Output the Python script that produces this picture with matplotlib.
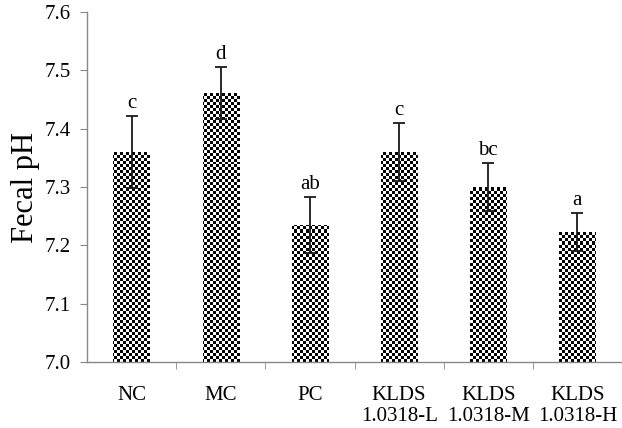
import numpy as np
import matplotlib
matplotlib.use("Agg")
import matplotlib.pyplot as plt

groups = ["NC", "MC", "PC", "KLDS\n1.0318-L", "KLDS\n1.0318-M", "KLDS\n1.0318-H"]
ph_mean = [7.360, 7.461, 7.235, 7.360, 7.300, 7.223]
ph_err = [0.062, 0.044, 0.048, 0.050, 0.041, 0.033]
letters = ["c", "d", "ab", "c", "bc", "a"]

plt.rcParams['font.family'] = ['Liberation Serif', 'DejaVu Serif']

fig = plt.figure(figsize=(6.22, 4.28), dpi=100)
ax = fig.add_axes([0.140, 0.154, 0.860, 0.818])

x = np.arange(len(groups))
ax.set_xlim(-0.5, len(groups) - 0.5)
ax.set_ylim(7.0, 7.6)

bars = ax.bar(x, [m - 7.0 for m in ph_mean], bottom=7.0, width=0.41,
              color="none", edgecolor="none")

# checkerboard fill, ~3 px squares, clipped to each bar
ny, nx = 117, 179
checker = (np.indices((ny, nx)).sum(axis=0) % 2).astype(float)
for b in bars:
    im = ax.imshow(checker, cmap="gray", vmin=0, vmax=1, aspect="auto",
                   interpolation="nearest", extent=(-0.5, len(groups) - 0.5, 7.0, 7.6),
                   zorder=1)
    im.set_clip_path(b)

ax.errorbar(x, ph_mean, yerr=ph_err, fmt="none", ecolor="#1a1a1a",
            elinewidth=1.3, capsize=4, capthick=1.3, zorder=3)

for xi, m, e, t in zip(x, ph_mean, ph_err, letters):
    ax.text(xi, m + e + 0.005, t, ha="center", va="bottom", fontsize=15)

for s in ["top", "right"]:
    ax.spines[s].set_visible(False)
for s in ["left", "bottom"]:
    ax.spines[s].set_color("#888888")
    ax.spines[s].set_linewidth(1.0)

ax.set_yticks(np.arange(7.0, 7.61, 0.1))
ax.set_yticklabels(["%.1f" % v for v in np.arange(7.0, 7.61, 0.1)], fontsize=15)
ax.tick_params(axis="y", length=5, color="#888888", pad=7)

ax.set_xticks(x)
ax.set_xticklabels(groups, fontsize=15, linespacing=1.15)
ax.set_xticks(np.arange(0.5, len(groups) - 0.5, 1.0), minor=True)
ax.tick_params(axis="x", which="major", length=0, pad=17)
ax.tick_params(axis="x", which="minor", length=5, color="#888888")

ax.set_ylabel("Fecal pH", fontsize=22, labelpad=3)

fig.savefig("out.png", dpi=100)
